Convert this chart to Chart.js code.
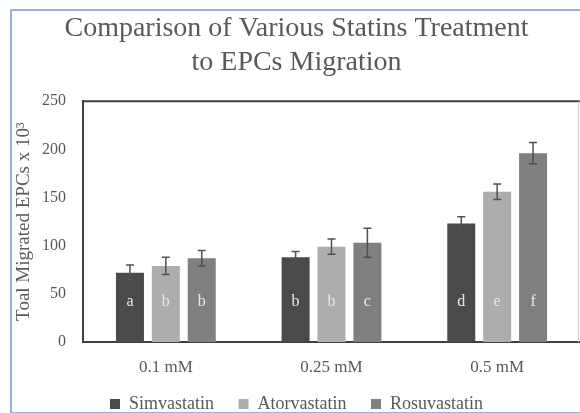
<!DOCTYPE html>
<html>
<head>
<meta charset="utf-8">
<script src="https://cdn.jsdelivr.net/npm/chart.js@4"></script>
<style>
  html, body { margin: 0; padding: 0; background: #fff; }
  #wrap { position: relative; width: 580px; height: 413px; }
  #frame { position: absolute; left: 10px; top: 9px; width: 580px; height: 401px;
           border-left: 2px solid #9aaee0; border-top: 2px solid #9aaee0; border-bottom: 2px solid #9aaee0; }
  canvas { position: absolute; left: 0; top: 0; }
</style>
</head>
<body>
<div id="wrap">
  <div id="frame"></div>
  <canvas id="chartContainer" width="580" height="413"></canvas>
</div>
<script>
const doses = ["0.1 mM", "0.25 mM", "0.5 mM"];
const simvastatin = [72, 88, 123];
const atorvastatin = [79, 99, 156];
const rosuvastatin = [87, 103, 196];
const simvastatinErr = [8, 6, 7];
const atorvastatinErr = [9, 8, 8];
const rosuvastatinErr = [8, 15, 11];
const simvastatinLetters = ["a", "b", "d"];
const atorvastatinLetters = ["b", "b", "e"];
const rosuvastatinLetters = ["b", "c", "f"];
const yTicks = [0, 50, 100, 150, 200, 250];

const serif = "'Liberation Serif', 'DejaVu Serif', serif";
const textGray = "#595959";

// whiskers and significance letters drawn on each bar
const barExtras = {
    id: "barExtras",
    afterDatasetsDraw(chart) {
        const ctx = chart.ctx;
        const y = chart.scales.y;
        chart.data.datasets.forEach((ds, i) => {
            chart.getDatasetMeta(i).data.forEach((bar, j) => {
                const v = ds.data[j];
                const e = ds.errors[j];
                const top = y.getPixelForValue(v + e);
                const bot = y.getPixelForValue(v - e);
                ctx.save();
                ctx.strokeStyle = "#505050";
                ctx.lineWidth = 1.5;
                ctx.beginPath();
                ctx.moveTo(bar.x, top);
                ctx.lineTo(bar.x, bot);
                ctx.moveTo(bar.x - 4, top);
                ctx.lineTo(bar.x + 4, top);
                ctx.moveTo(bar.x - 4, bot);
                ctx.lineTo(bar.x + 4, bot);
                ctx.stroke();
                ctx.fillStyle = "#e8e8e8";
                ctx.font = "16px " + serif;
                ctx.textAlign = "center";
                ctx.textBaseline = "middle";
                ctx.fillText(ds.letters[j], bar.x, y.getPixelForValue(42));
                ctx.restore();
            });
        });
    },
    afterDraw(chart) {
        const a = chart.chartArea;
        const ctx = chart.ctx;
        ctx.save();
        ctx.strokeStyle = "#404040";
        ctx.lineWidth = 2;
        ctx.beginPath();
        ctx.moveTo(a.left, a.top);
        ctx.lineTo(a.right, a.top);
        ctx.stroke();
        ctx.strokeStyle = "#cfcfcf";
        ctx.lineWidth = 1;
        ctx.beginPath();
        ctx.moveTo(a.right - 1.5, a.top);
        ctx.lineTo(a.right - 1.5, a.bottom);
        ctx.stroke();
        ctx.restore();
    }
};

const chart = new Chart(document.getElementById("chartContainer"), {
    type: "bar",
    data: {
        labels: doses,
        datasets: [
            { label: "Simvastatin", data: simvastatin, errors: simvastatinErr, letters: simvastatinLetters, backgroundColor: "#4a4a4c" },
            { label: "Atorvastatin", data: atorvastatin, errors: atorvastatinErr, letters: atorvastatinLetters, backgroundColor: "#adadad" },
            { label: "Rosuvastatin", data: rosuvastatin, errors: rosuvastatinErr, letters: rosuvastatinLetters, backgroundColor: "#808080" },
        ],
    },
    options: {
        responsive: false,
        animation: false,
        layout: { padding: { left: 13, right: 0, top: 0, bottom: -10 } },
        barPercentage: 0.78,
        categoryPercentage: 0.65,
        plugins: {
            title: {
                display: true,
                text: ["Comparison of Various Statins Treatment", "to EPCs Migration"],
                color: textGray,
                font: { family: serif, size: 28, weight: "normal", lineHeight: 1.2 },
                padding: { top: 12, bottom: 22 },
            },
            legend: {
                position: "bottom",
                labels: {
                    color: textGray,
                    font: { family: serif, size: 18 },
                    boxWidth: 10,
                    boxHeight: 10,
                    padding: 2,
                    // wider gaps between items, none after the last
                    generateLabels: (c) => Chart.defaults.plugins.legend.labels.generateLabels(c)
                        .map((l, i, all) => ({ ...l, text: i < all.length - 1 ? l.text + "     " : l.text })),
                },
            },
            tooltip: { enabled: false },
        },
        scales: {
            x: {
                grid: { display: false },
                border: { color: "#404040", width: 2 },
                ticks: { color: textGray, font: { family: serif, size: 17 }, padding: 7 },
                afterFit: (s) => { s.height = 51; },
            },
            y: {
                min: 0,
                max: 250,
                afterBuildTicks: (s) => { s.ticks = yTicks.map((v) => ({ value: v })); },
                grid: { display: false },
                border: { color: "#404040", width: 2 },
                ticks: { color: textGray, font: { family: serif, size: 16 }, padding: 9 },
                title: {
                    display: true,
                    text: "Toal Migrated EPCs x 10³",
                    color: textGray,
                    font: { family: serif, size: 19 },
                    padding: 0,
                },
                afterFit: (s) => { s.width = 70; },
            },
        },
    },
    plugins: [barExtras],
});
</script>
</body>
</html>
